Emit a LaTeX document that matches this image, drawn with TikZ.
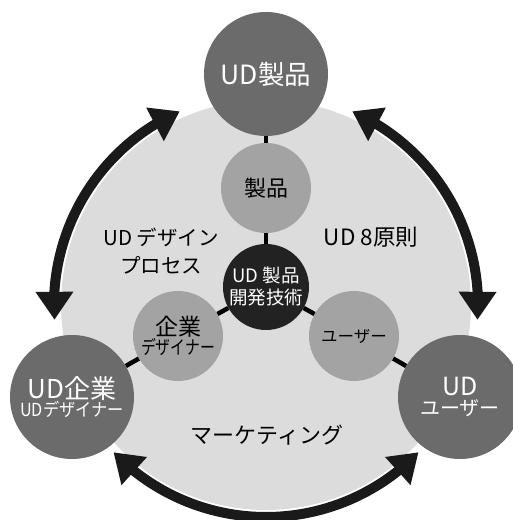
\documentclass[tikz,border=0pt]{standalone}
\usepackage{fontspec}
\usepackage{graphicx}
\setmainfont{Noto Sans CJK JP}
\usetikzlibrary{arrows.meta,bending}
\definecolor{bigc}{HTML}{6B6B6B}
\definecolor{medc}{HTML}{A3A3A3}
\definecolor{discc}{HTML}{DCDCDC}
\definecolor{corec}{HTML}{222222}
\definecolor{arrc}{HTML}{1A1A1A}
\begin{document}
\begin{tikzpicture}[x=1pt,y=1pt,
  big/.style={circle,fill=bigc,minimum size=124pt,inner sep=0pt,text=white,align=center},
  med/.style={circle,fill=medc,minimum size=90pt,inner sep=0pt,text=black,align=center},
  core/.style={circle,fill=corec,minimum size=86pt,inner sep=0pt,text=white,align=center},
  link/.style={line width=4.5pt,draw=black},
  cyc/.style={line width=10pt,draw=arrc,{Triangle[length=28pt,width=36pt,flex]}-{Triangle[length=28pt,width=36pt,flex]}},
  lbl/.style={align=center,text=black}]
\useasboundingbox (0,0) rectangle (512,520);
\coordinate (C) at (266,215);
\fill[discc] (C) circle[radius=205];
% big circles
\node[big,font=\fontsize{26.5}{28}\selectfont] (top) at (266,446) {UD製品};
\node[big] (left) at (72,123) {{\fontsize{26}{28}\selectfont UD企業}\\[0pt]{\fontsize{18}{20}\selectfont\scalebox{0.9}[1]{UDデザイナー}}};
\node[big] (right) at (460,123) {{\fontsize{25}{27}\selectfont UD}\\[3pt]{\fontsize{20}{22}\selectfont ユーザー}};
% medium circles
\node[med,font=\fontsize{22}{24}\selectfont] (prod) at (266,332) {製品};
\node[med] (corp) at (178,184) {{\fontsize{23}{25}\selectfont 企業}\\[0pt]{\fontsize{19}{21}\selectfont\scalebox{0.78}[1]{デザイナー}}};
\node[med,font=\fontsize{16.5}{18}\selectfont] (user) at (354,184) {ユーザー};
% core
\node[core,font=\fontsize{18.5}{22}\selectfont] (core) at (266,233) {UD 製品\\開発技術};
% connectors
\draw[link] (top) -- (prod);
\draw[link] (prod) -- (core);
\draw[link] (core) -- (corp);
\draw[link] (core) -- (user);
\draw[link] (corp) -- (left);
\draw[link] (user) -- (right);
% labels
\node[lbl,font=\fontsize{20.5}{28}\selectfont] (proc) at (161,269) {UD デザイン\\プロセス};
\node[lbl,font=\fontsize{22.5}{24}\selectfont] (prin) at (371,283) {UD 8原則};
\node[lbl,font=\fontsize{22}{24}\selectfont] (mkt) at (267,85) {マーケティング};
% cycle arrows
\draw[cyc] (C) ++(114:212) coordinate (a1) arc[start angle=114,end angle=184,radius=212] coordinate (a2);
\draw[cyc] (C) ++(224:212) coordinate (b1) arc[start angle=224,end angle=316,radius=212] coordinate (b2);
\draw[cyc] (C) ++(-4:212) coordinate (c1) arc[start angle=-4,end angle=66,radius=212] coordinate (c2);
\end{tikzpicture}
\end{document}
